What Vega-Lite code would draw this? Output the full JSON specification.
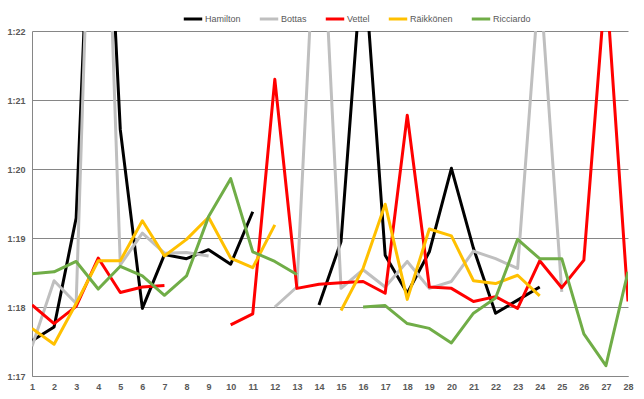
{
  "$schema": "https://vega.github.io/schema/vega-lite/v6.json",
  "width": 596,
  "height": 345,
  "autosize": "none",
  "padding": {"left": 32, "top": 31, "right": 16, "bottom": 23},
  "background": "white",
  "config": {
    "view": {"stroke": null},
    "font": "Liberation Sans"
  },
  "datasets": {
    "laps": [
      {"lap": 1, "driver": "Hamilton", "t": 77.51},
      {"lap": 2, "driver": "Hamilton", "t": 77.71},
      {"lap": 3, "driver": "Hamilton", "t": 79.29},
      {"lap": 4, "driver": "Hamilton", "t": 87.0},
      {"lap": 5, "driver": "Hamilton", "t": 80.57},
      {"lap": 6, "driver": "Hamilton", "t": 77.98},
      {"lap": 7, "driver": "Hamilton", "t": 78.76},
      {"lap": 8, "driver": "Hamilton", "t": 78.7},
      {"lap": 9, "driver": "Hamilton", "t": 78.83},
      {"lap": 10, "driver": "Hamilton", "t": 78.62},
      {"lap": 11, "driver": "Hamilton", "t": 79.38},
      {"lap": 12, "driver": "Hamilton", "t": null},
      {"lap": 13, "driver": "Hamilton", "t": null},
      {"lap": 14, "driver": "Hamilton", "t": 78.03},
      {"lap": 15, "driver": "Hamilton", "t": 78.95},
      {"lap": 16, "driver": "Hamilton", "t": 83.2},
      {"lap": 17, "driver": "Hamilton", "t": 78.75},
      {"lap": 18, "driver": "Hamilton", "t": 78.2},
      {"lap": 19, "driver": "Hamilton", "t": 78.8},
      {"lap": 20, "driver": "Hamilton", "t": 80.01},
      {"lap": 21, "driver": "Hamilton", "t": 78.85},
      {"lap": 22, "driver": "Hamilton", "t": 77.91},
      {"lap": 23, "driver": "Hamilton", "t": 78.1},
      {"lap": 24, "driver": "Hamilton", "t": 78.29},

      {"lap": 1, "driver": "Bottas", "t": 77.43},
      {"lap": 2, "driver": "Bottas", "t": 78.38},
      {"lap": 3, "driver": "Bottas", "t": 78.05},
      {"lap": 4, "driver": "Bottas", "t": 88.0},
      {"lap": 5, "driver": "Bottas", "t": 78.61},
      {"lap": 6, "driver": "Bottas", "t": 79.07},
      {"lap": 7, "driver": "Bottas", "t": 78.78},
      {"lap": 8, "driver": "Bottas", "t": 78.79},
      {"lap": 9, "driver": "Bottas", "t": 78.74},
      {"lap": 10, "driver": "Bottas", "t": null},
      {"lap": 11, "driver": "Bottas", "t": null},
      {"lap": 12, "driver": "Bottas", "t": 78.0},
      {"lap": 13, "driver": "Bottas", "t": 78.29},
      {"lap": 14, "driver": "Bottas", "t": 84.7},
      {"lap": 15, "driver": "Bottas", "t": 78.27},
      {"lap": 16, "driver": "Bottas", "t": 78.54},
      {"lap": 17, "driver": "Bottas", "t": 78.29},
      {"lap": 18, "driver": "Bottas", "t": 78.66},
      {"lap": 19, "driver": "Bottas", "t": 78.27},
      {"lap": 20, "driver": "Bottas", "t": 78.37},
      {"lap": 21, "driver": "Bottas", "t": 78.81},
      {"lap": 22, "driver": "Bottas", "t": 78.7},
      {"lap": 23, "driver": "Bottas", "t": 78.56},
      {"lap": 24, "driver": "Bottas", "t": 82.8},
      {"lap": 25, "driver": "Bottas", "t": 78.22},

      {"lap": 1, "driver": "Vettel", "t": 78.03},
      {"lap": 2, "driver": "Vettel", "t": 77.76},
      {"lap": 3, "driver": "Vettel", "t": 78.01},
      {"lap": 4, "driver": "Vettel", "t": 78.71},
      {"lap": 5, "driver": "Vettel", "t": 78.21},
      {"lap": 6, "driver": "Vettel", "t": 78.29},
      {"lap": 7, "driver": "Vettel", "t": 78.31},
      {"lap": 8, "driver": "Vettel", "t": null},
      {"lap": 9, "driver": "Vettel", "t": null},
      {"lap": 10, "driver": "Vettel", "t": 77.74},
      {"lap": 11, "driver": "Vettel", "t": 77.9},
      {"lap": 12, "driver": "Vettel", "t": 81.3},
      {"lap": 13, "driver": "Vettel", "t": 78.27},
      {"lap": 14, "driver": "Vettel", "t": 78.33},
      {"lap": 15, "driver": "Vettel", "t": 78.35},
      {"lap": 16, "driver": "Vettel", "t": 78.37},
      {"lap": 17, "driver": "Vettel", "t": 78.2},
      {"lap": 18, "driver": "Vettel", "t": 80.78},
      {"lap": 19, "driver": "Vettel", "t": 78.29},
      {"lap": 20, "driver": "Vettel", "t": 78.27},
      {"lap": 21, "driver": "Vettel", "t": 78.08},
      {"lap": 22, "driver": "Vettel", "t": 78.15},
      {"lap": 23, "driver": "Vettel", "t": 77.98},
      {"lap": 24, "driver": "Vettel", "t": 78.67},
      {"lap": 25, "driver": "Vettel", "t": 78.28},
      {"lap": 26, "driver": "Vettel", "t": 78.68},
      {"lap": 27, "driver": "Vettel", "t": 82.75},
      {"lap": 28, "driver": "Vettel", "t": 78.08},

      {"lap": 1, "driver": "Räikkönen", "t": 77.69},
      {"lap": 2, "driver": "Räikkönen", "t": 77.46},
      {"lap": 3, "driver": "Räikkönen", "t": 78.05},
      {"lap": 4, "driver": "Räikkönen", "t": 78.67},
      {"lap": 5, "driver": "Räikkönen", "t": 78.67},
      {"lap": 6, "driver": "Räikkönen", "t": 79.25},
      {"lap": 7, "driver": "Räikkönen", "t": 78.74},
      {"lap": 8, "driver": "Räikkönen", "t": 78.98},
      {"lap": 9, "driver": "Räikkönen", "t": 79.3},
      {"lap": 10, "driver": "Räikkönen", "t": 78.71},
      {"lap": 11, "driver": "Räikkönen", "t": 78.57},
      {"lap": 12, "driver": "Räikkönen", "t": 79.19},
      {"lap": 13, "driver": "Räikkönen", "t": null},
      {"lap": 14, "driver": "Räikkönen", "t": null},
      {"lap": 15, "driver": "Räikkönen", "t": 77.95},
      {"lap": 16, "driver": "Räikkönen", "t": 78.56},
      {"lap": 17, "driver": "Räikkönen", "t": 79.49},
      {"lap": 18, "driver": "Räikkönen", "t": 78.11},
      {"lap": 19, "driver": "Räikkönen", "t": 79.13},
      {"lap": 20, "driver": "Räikkönen", "t": 79.03},
      {"lap": 21, "driver": "Räikkönen", "t": 78.38},
      {"lap": 22, "driver": "Räikkönen", "t": 78.34},
      {"lap": 23, "driver": "Räikkönen", "t": 78.46},
      {"lap": 24, "driver": "Räikkönen", "t": 78.16},

      {"lap": 1, "driver": "Ricciardo", "t": 78.48},
      {"lap": 2, "driver": "Ricciardo", "t": 78.51},
      {"lap": 3, "driver": "Ricciardo", "t": 78.66},
      {"lap": 4, "driver": "Ricciardo", "t": 78.26},
      {"lap": 5, "driver": "Ricciardo", "t": 78.59},
      {"lap": 6, "driver": "Ricciardo", "t": 78.45},
      {"lap": 7, "driver": "Ricciardo", "t": 78.17},
      {"lap": 8, "driver": "Ricciardo", "t": 78.45},
      {"lap": 9, "driver": "Ricciardo", "t": 79.31},
      {"lap": 10, "driver": "Ricciardo", "t": 79.86},
      {"lap": 11, "driver": "Ricciardo", "t": 78.8},
      {"lap": 12, "driver": "Ricciardo", "t": 78.66},
      {"lap": 13, "driver": "Ricciardo", "t": 78.47},
      {"lap": 14, "driver": "Ricciardo", "t": null},
      {"lap": 15, "driver": "Ricciardo", "t": null},
      {"lap": 16, "driver": "Ricciardo", "t": 78.0},
      {"lap": 17, "driver": "Ricciardo", "t": 78.02},
      {"lap": 18, "driver": "Ricciardo", "t": 77.76},
      {"lap": 19, "driver": "Ricciardo", "t": 77.69},
      {"lap": 20, "driver": "Ricciardo", "t": 77.48},
      {"lap": 21, "driver": "Ricciardo", "t": 77.91},
      {"lap": 22, "driver": "Ricciardo", "t": 78.13},
      {"lap": 23, "driver": "Ricciardo", "t": 78.98},
      {"lap": 24, "driver": "Ricciardo", "t": 78.7},
      {"lap": 25, "driver": "Ricciardo", "t": 78.7},
      {"lap": 26, "driver": "Ricciardo", "t": 77.61},
      {"lap": 27, "driver": "Ricciardo", "t": 77.15},
      {"lap": 28, "driver": "Ricciardo", "t": 78.51}
    ]
  },
  "data": {"name": "laps"},
  "mark": {"type": "line", "clip": true, "strokeWidth": 3, "invalid": "break-paths-filter-domains", "strokeJoin": "round"},
  "encoding": {
    "x": {
      "field": "lap",
      "type": "quantitative",
      "scale": {"domain": [1, 28], "nice": false, "zero": false},
      "axis": {
        "title": null,
        "values": [1,2,3,4,5,6,7,8,9,10,11,12,13,14,15,16,17,18,19,20,21,22,23,24,25,26,27,28],
        "grid": false,
        "ticks": false,
        "domainColor": "#868686",
        "domainWidth": 1,
        "labelFont": "Liberation Sans",
        "labelFontSize": 9,
        "labelFontWeight": "bold",
        "labelColor": "#595959",
        "labelPadding": 6,
        "labelFlush": false
      }
    },
    "y": {
      "field": "t",
      "type": "quantitative",
      "scale": {"domain": [77, 82], "nice": false, "zero": false},
      "axis": {
        "title": null,
        "values": [77, 78, 79, 80, 81, 82],
        "labelExpr": "'1:' + (datum.value - 60)",
        "grid": true,
        "gridColor": "#868686",
        "gridWidth": 1,
        "ticks": false,
        "domainColor": "#868686",
        "domainWidth": 1,
        "labelFont": "Liberation Sans",
        "labelFontSize": 9,
        "labelFontWeight": "bold",
        "labelColor": "#595959",
        "labelPadding": 7
      }
    },
    "color": {
      "field": "driver",
      "type": "nominal",
      "scale": {
        "domain": ["Hamilton", "Bottas", "Vettel", "Räikkönen", "Ricciardo"],
        "range": ["#000000", "#bfbfbf", "#ff0000", "#ffc000", "#70ad47"]
      },
      "legend": {
        "title": null,
        "orient": "none",
        "direction": "horizontal",
        "legendX": 150,
        "legendY": -23,
        "symbolType": "stroke",
        "symbolSize": 340,
        "symbolStrokeWidth": 3,
        "labelFont": "Liberation Sans",
        "labelFontSize": 9,
        "labelColor": "#595959",
        "labelOffset": 1,
        "columnPadding": 12,
        "padding": 0
      }
    }
  }
}
